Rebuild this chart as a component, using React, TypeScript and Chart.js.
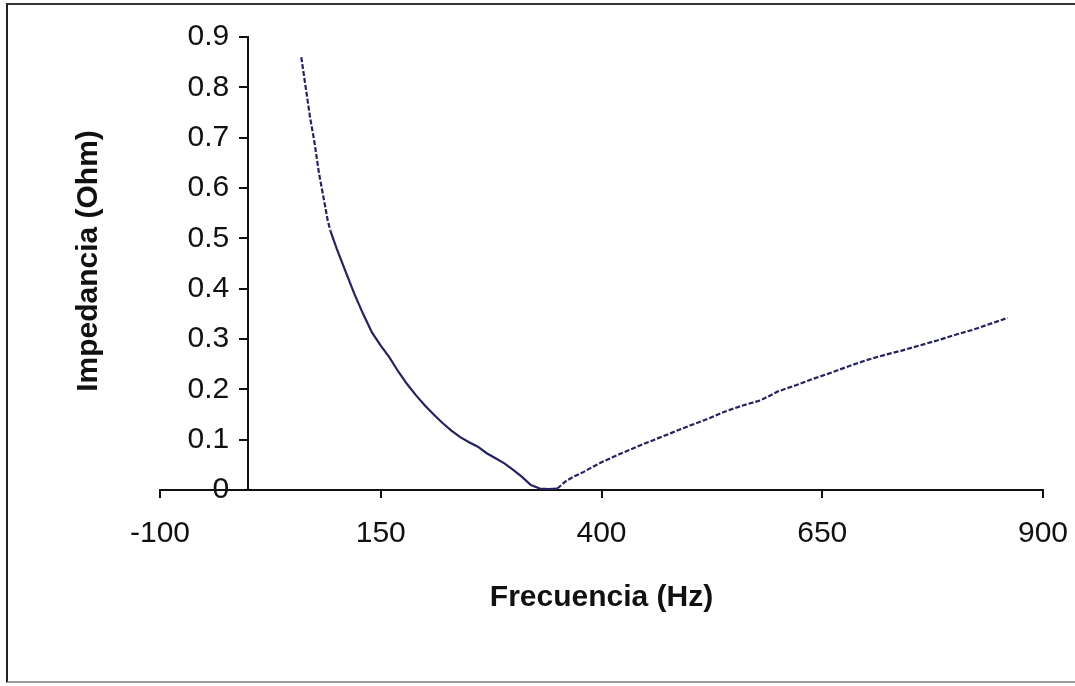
import React, { useEffect, useRef } from 'react';
import { Chart, registerables } from 'chart.js';

Chart.register(...registerables);

// Frequency (Hz)
const frequencies = [
  60, 65, 70, 75, 80, 90, 93, 100, 110, 120, 130, 140, 150, 160, 170, 180, 190, 200,
  210, 220, 230, 240, 250, 260, 270, 280, 290, 300, 310, 320, 330, 340, 350,
  360, 370, 380, 390, 400, 420, 440, 460, 480, 500, 520, 540, 560, 580, 600,
  620, 640, 660, 680, 700, 720, 740, 760, 780, 800, 820, 840, 860,
];

// Impedance (Ohm)
const impedance = [
  0.86, 0.8, 0.74, 0.69, 0.63, 0.535, 0.515, 0.48, 0.435, 0.39, 0.35, 0.313, 0.287, 0.263, 0.235, 0.21, 0.188, 0.168,
  0.15, 0.133, 0.118, 0.105, 0.095, 0.086, 0.073, 0.063, 0.053, 0.04, 0.026, 0.01, 0.003, 0.002, 0.003,
  0.018, 0.028, 0.036, 0.046, 0.055, 0.071, 0.086, 0.1, 0.114, 0.128, 0.141, 0.156, 0.168, 0.178, 0.196,
  0.208, 0.221, 0.233, 0.246, 0.258, 0.268, 0.277, 0.287, 0.297, 0.308, 0.318, 0.33, 0.342,
];

const xTickValues = [-100, 150, 400, 650, 900];
const yTickValues = [0, 0.1, 0.2, 0.3, 0.4, 0.5, 0.6, 0.7, 0.8, 0.9];

const xTitle = 'Frecuencia (Hz)';
const yTitle = 'Impedancia (Ohm)';

const FONT = "'Liberation Sans', Arial, sans-serif";
const INK = '#111111';
const LINE = '#25235f';

const formatY = (v: number) => (v === 0 ? '0' : v.toFixed(1));

// Y-axis tick labels and title (the y axis crosses at x = 0, so its labels are drawn here)
const yAxisTextPlugin = {
  id: 'yAxisText',
  afterDraw(chart: any) {
    const ctx = chart.ctx;
    const yScale = chart.scales.y;
    const xScale = chart.scales.x;
    const axisX = xScale.getPixelForValue(0);
    ctx.save();
    ctx.font = `30px ${FONT}`;
    ctx.fillStyle = INK;
    ctx.textAlign = 'right';
    ctx.textBaseline = 'middle';
    yTickValues.forEach((v) => {
      ctx.fillText(formatY(v), axisX - 19, yScale.getPixelForValue(v));
    });
    ctx.restore();

    ctx.save();
    ctx.translate(89, 261);
    ctx.rotate(-Math.PI / 2);
    ctx.font = `bold 30px ${FONT}`;
    ctx.fillStyle = INK;
    ctx.textAlign = 'center';
    ctx.textBaseline = 'middle';
    ctx.fillText(yTitle, 0, 0);
    ctx.restore();
  },
};

export default function App() {
  const canvasRef = useRef<HTMLCanvasElement | null>(null);

  useEffect(() => {
    if (!canvasRef.current) return;
    const points = frequencies.map((f, i) => ({ x: f, y: impedance[i] }));
    const chart = new Chart(canvasRef.current, {
      type: 'scatter',
      data: {
        datasets: [
          {
            data: points,
            showLine: true,
            borderColor: LINE,
            backgroundColor: LINE,
            borderWidth: 2.2,
            pointRadius: 0,
            pointHoverRadius: 0,
            tension: 0,
            segment: {
              borderDash: (ctx: any) =>
                ctx.p0.parsed.x >= 350 || ctx.p1.parsed.x <= 95 ? [5, 2] : [],
            },
          },
        ],
      },
      options: {
        responsive: false,
        animation: false,
        events: [],
        layout: { padding: { left: 160, right: 32, top: 37, bottom: 0 } },
        plugins: {
          legend: { display: false },
          tooltip: { enabled: false },
          title: { display: false },
        },
        scales: {
          x: {
            type: 'linear',
            position: 'bottom',
            min: -100,
            max: 900,
            afterBuildTicks: (scale: any) => {
              scale.ticks = xTickValues.map((v) => ({ value: v }));
            },
            afterFit: (scale: any) => {
              scale.height = 196;
              scale.paddingLeft = 0;
              scale.paddingRight = 0;
            },
            ticks: {
              color: INK,
              font: { family: FONT, size: 30 },
              padding: 18,
              maxRotation: 0,
              autoSkip: false,
              callback: (v: any) => String(v),
            },
            grid: {
              display: true,
              drawOnChartArea: false,
              drawTicks: true,
              tickLength: 8,
              color: INK,
              lineWidth: 2,
            },
            border: { display: true, color: INK, width: 2 },
            title: {
              display: true,
              text: xTitle,
              color: INK,
              font: { family: FONT, size: 30, weight: 'bold' },
              padding: { top: 0, bottom: 70 },
            },
          },
          y: {
            type: 'linear',
            position: { x: 0 } as any,
            min: 0,
            max: 0.9,
            afterBuildTicks: (scale: any) => {
              scale.ticks = yTickValues.map((v) => ({ value: v }));
            },
            afterFit: (scale: any) => {
              scale.paddingTop = 0;
              scale.paddingBottom = 0;
            },
            ticks: {
              display: false,
              autoSkip: false,
            },
            grid: {
              display: true,
              drawOnChartArea: false,
              drawTicks: true,
              tickLength: 8,
              color: INK,
              lineWidth: 2,
            },
            border: { display: true, color: INK, width: 2 },
          },
        },
      },
      plugins: [yAxisTextPlugin],
    });
    return () => chart.destroy();
  }, []);

  return (
    <div
      style={{
        position: 'absolute',
        left: 0,
        top: 0,
        width: 1075,
        height: 686,
        background: '#ffffff',
        overflow: 'hidden',
      }}
    >
      <div
        style={{
          position: 'absolute',
          left: 6,
          top: 3,
          width: 1100,
          height: 680,
          borderLeft: '2px solid #222',
          borderTop: '2px solid #333',
          borderBottom: '2px solid #9a9a9a',
          boxSizing: 'border-box',
        }}
      />
      <canvas
        ref={canvasRef}
        width={1075}
        height={686}
        style={{ position: 'absolute', left: 0, top: 0, display: 'block' }}
      />
    </div>
  );
}
